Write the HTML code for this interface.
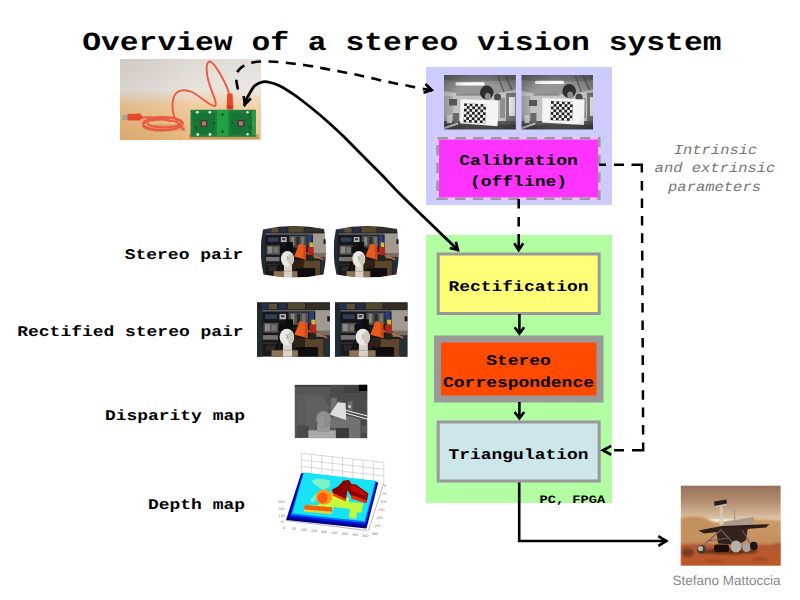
<!DOCTYPE html>
<html>
<head>
<meta charset="utf-8">
<title>Overview of a stereo vision system</title>
<style>
html,body{margin:0;padding:0;background:#fff;}
body{width:800px;height:600px;overflow:hidden;position:relative;font-family:"Liberation Mono",monospace;}
svg{position:absolute;left:0;top:0;display:block;}
text{text-rendering:geometricPrecision;}
.m{font-family:"Liberation Mono",monospace;font-weight:bold;fill:#000;}
.it{font-family:"Liberation Mono",monospace;font-style:italic;font-weight:normal;fill:#767676;}
.s{font-family:"Liberation Sans",sans-serif;fill:#8a8a8a;}
</style>
</head>
<body>
<svg width="800" height="600" viewBox="0 0 800 600">
<rect width="800" height="600" fill="#ffffff"/>
<defs>
<filter id="b3" x="-5%" y="-5%" width="110%" height="110%"><feGaussianBlur stdDeviation="0.35"/></filter>
<filter id="b5" x="-5%" y="-5%" width="110%" height="110%"><feGaussianBlur stdDeviation="0.55"/></filter>
<filter id="b6" x="-5%" y="-5%" width="110%" height="110%"><feGaussianBlur stdDeviation="0.75"/></filter>
<filter id="b8" x="-5%" y="-5%" width="110%" height="110%"><feGaussianBlur stdDeviation="0.8"/></filter>
<filter id="b15" x="-10%" y="-10%" width="120%" height="120%"><feGaussianBlur stdDeviation="1.5"/></filter>
<linearGradient id="gBoardBg" x1="0" y1="0" x2="0" y2="1">
 <stop offset="0" stop-color="#ddd6cf"/>
 <stop offset="0.38" stop-color="#e6e0da"/>
 <stop offset="0.47" stop-color="#ead4b8"/>
 <stop offset="0.58" stop-color="#efc796"/>
 <stop offset="0.8" stop-color="#ecbb80"/>
 <stop offset="1" stop-color="#e9b376"/>
</linearGradient>
<linearGradient id="gBoardLight" x1="0" y1="0" x2="1" y2="0">
 <stop offset="0" stop-color="#000" stop-opacity="0.06"/>
 <stop offset="0.5" stop-color="#fff" stop-opacity="0.08"/>
 <stop offset="1" stop-color="#fff" stop-opacity="0.22"/>
</linearGradient>
<clipPath id="cBoard"><rect x="120" y="59" width="141.3" height="81.3"/></clipPath>
<pattern id="chkL" x="464.2" y="103.2" width="5.5" height="5.5" patternUnits="userSpaceOnUse">
 <rect width="5.5" height="5.5" fill="#f2f2f2"/>
 <rect width="2.75" height="2.75" fill="#222"/>
 <rect x="2.75" y="2.75" width="2.75" height="2.75" fill="#222"/>
</pattern>
<pattern id="chkR" x="551" y="101" width="5.5" height="5.5" patternUnits="userSpaceOnUse">
 <rect width="5.5" height="5.5" fill="#f2f2f2"/>
 <rect width="2.75" height="2.75" fill="#222"/>
 <rect x="2.75" y="2.75" width="2.75" height="2.75" fill="#222"/>
</pattern>
<radialGradient id="gVig" cx="0.5" cy="0.55" r="0.75">
 <stop offset="0.55" stop-color="#000" stop-opacity="0"/>
 <stop offset="1" stop-color="#000" stop-opacity="0.42"/>
</radialGradient>
</defs>


<!-- TITLE -->
<text class="m" font-size="26.05" transform="translate(82.2,50.0) scale(1.203,1)">Overview of a stereo vision system</text>

<!-- BACKGROUND PANELS -->
<rect id="lav" x="426" y="67" width="186" height="138" fill="#ccccff"/>
<rect id="grn" x="426" y="235" width="186" height="268" fill="#b2fca2"/>

<!-- PHOTO: camera board -->
<g id="board" clip-path="url(#cBoard)">
<rect x="120" y="59" width="141.3" height="81.3" fill="url(#gBoardBg)"/>
<rect x="120" y="59" width="141.3" height="81.3" fill="url(#gBoardLight)"/>
<g filter="url(#b5)">
 <!-- board shadow -->
 <rect x="189" y="134" width="70" height="5" fill="#b98a4e" opacity="0.7"/>
 <!-- coil shadow -->
 <ellipse cx="164" cy="128" rx="22" ry="4" fill="#d99a58" opacity="0.7"/>
 <!-- cable -->
 <g fill="none" stroke="#ea5a42" stroke-width="1.9" stroke-linecap="round">
  <path d="M229.5,95 C226,82 214,62 210,61.5 C205,61 206,75 210,86 C212,93 218,104 215,106 C211,107 200,96 192,92 C184,88.5 176,90 173.5,98 C171,108 173,120 184,130"/>
  <ellipse cx="163" cy="123.5" rx="20" ry="6.5"/>
  <ellipse cx="164" cy="122.5" rx="17" ry="5"/>
  <ellipse cx="161" cy="125" rx="18" ry="5.5"/>
  <path d="M141,118 C150,116 160,118 170,121"/>
 </g>
 <!-- left plug -->
 <rect x="122" y="115" width="6" height="5" fill="#a9a39b"/>
 <path d="M127.5,114 L140,113.5 L143,117 L140,120.5 L127.5,120.5 Z" fill="#e8492f"/>
 <!-- plug on board -->
 <path d="M227.2,93.5 L232.5,93.5 L233.3,108.5 L226.5,108.5 Z" fill="#e8492f"/>
 <rect x="227" y="105" width="6" height="4.5" fill="#d43a22"/>
 <!-- PCB -->
 <rect x="190.5" y="109.8" width="65.3" height="27" fill="#1d7f3a"/>
 <rect x="217" y="109.8" width="11.5" height="27" fill="#23a043"/>
 <rect x="193" y="113" width="22" height="21" fill="#197535"/>
 <rect x="230.5" y="113" width="22" height="21" fill="#197535"/>
 <rect x="252" y="111" width="3.5" height="24" fill="#2c9a4a"/>
 <rect x="200.5" y="120" width="7" height="7" fill="#4a3a36"/>
 <rect x="202" y="121.5" width="4" height="4" fill="#b07a70"/>
 <rect x="237.5" y="120" width="7" height="7" fill="#4a3a36"/>
 <rect x="239" y="121.5" width="4" height="4" fill="#b07a70"/>
 <g fill="#e8f4ea">
  <circle cx="197.3" cy="112.3" r="1.4"/><circle cx="209.8" cy="112.3" r="1.4"/>
  <circle cx="197.8" cy="134.5" r="1.4"/><circle cx="210" cy="134.5" r="1.4"/>
  <circle cx="247.5" cy="112.3" r="1.2"/><circle cx="247.5" cy="134.3" r="1.2"/>
 </g>
 <g fill="#0d4a22">
  <circle cx="222.5" cy="114.5" r="1.2"/><circle cx="222.5" cy="131.5" r="1.2"/>
  <circle cx="214" cy="123" r="1"/><circle cx="232" cy="123" r="1"/>
  <circle cx="196" cy="128" r="1"/><circle cx="250" cy="128" r="1"/>
 </g>
</g>
</g>

<!-- PHOTO: calibration pair -->
<g id="calib">
<clipPath id="cCal444"><rect x="444" y="75" width="71.8" height="54.4"/></clipPath>
<clipPath id="cCal521"><rect x="521.4" y="75" width="71.6" height="54.4"/></clipPath>
<g clip-path="url(#cCal444)">
<rect x="444" y="75" width="72" height="54.4" fill="#c3c3c3"/>
<g filter="url(#b5)">
 <!-- ceiling -->
 <path d="M444,75 h72 v14 C494,96 466,96 444,91 Z" fill="#969696"/>
 <path d="M444,75 h72 v5 C494,82 466,82 444,80 Z" fill="#7c7c7c"/>
 <!-- ceiling beams -->
 <path d="M498,76 L504,92 M506,76 L512,90" stroke="#5a5a5a" stroke-width="1.2" fill="none"/>
 <!-- light -->
 <rect x="455.5" y="82.3" width="29.0" height="3.299999999999997" rx="1.3" fill="#ffffff"/>
 <!-- wall bits -->
 <rect x="444" y="96" width="9" height="26" fill="#a8a8a8"/>
 <rect x="449" y="99" width="8" height="6.5" fill="#555"/>
 <rect x="456" y="93.5" width="26" height="2.2" fill="#8a8a8a"/>
 <!-- right side window/door -->
 <rect x="506" y="93" width="10" height="30" fill="#777"/>
 <rect x="509" y="97" width="6" height="19" fill="#e6e6e6"/>
 <rect x="500" y="98" width="5" height="20" fill="#8f8f8f"/>
 <!-- heads -->
 <ellipse cx="486.8" cy="92.55" rx="6.800000000000011" ry="6.950000000000003" fill="#2e2e2e"/>
 <ellipse cx="487.8" cy="96.5" rx="3" ry="3.5" fill="#8c8c8c"/>
 <ellipse cx="497.5" cy="97" rx="3.5" ry="3.5" fill="#4a4a4a"/>
 <!-- floor / desk -->
 <rect x="444" y="121" width="72" height="9" fill="#5c5c5c"/>
 <rect x="444" y="124.5" width="72" height="5" fill="#474747"/>
 <path d="M444,127 L458,122.5 L458,124.5 L444,129.5Z" fill="#c9c9c9"/>
 <rect x="453" y="113" width="6" height="9" fill="#6a6a6a"/>
 <rect x="447" y="115" width="5" height="8" fill="#d0d0d0"/>
 <!-- board -->
 <path d="M460.6,99.2 L498.3,100.6 L497.6,126.2 L460.2,123.2 Z" fill="#f4f4f4"/>
</g>
<g filter="url(#b3)"><rect x="464.2" y="103.2" width="22" height="19.25" fill="url(#chkL)" transform="rotate(2.5 464.2 103.2)"/></g>
<rect x="444" y="75" width="72" height="54.4" fill="url(#gVig)"/>
</g><g clip-path="url(#cCal521)">
<rect x="521.4" y="75" width="72" height="54.4" fill="#c3c3c3"/>
<g filter="url(#b5)">
 <!-- ceiling -->
 <path d="M521.4,75 h72 v14 C571.4,96 543.4,96 521.4,91 Z" fill="#969696"/>
 <path d="M521.4,75 h72 v5 C571.4,82 543.4,82 521.4,80 Z" fill="#7c7c7c"/>
 <!-- ceiling beams -->
 <path d="M575.4,76 L581.4,92 M583.4,76 L589.4,90" stroke="#5a5a5a" stroke-width="1.2" fill="none"/>
 <!-- light -->
 <rect x="535" y="80.8" width="29" height="3.200000000000003" rx="1.3" fill="#ffffff"/>
 <!-- wall bits -->
 <rect x="521.4" y="96" width="9" height="26" fill="#a8a8a8"/>
 <rect x="529" y="100" width="8" height="6" fill="#555"/>
 <rect x="533.4" y="93.5" width="26" height="2.2" fill="#8a8a8a"/>
 <!-- right side window/door -->
 <rect x="587" y="93" width="7" height="30" fill="#777"/>
 <rect x="590" y="97" width="3" height="19" fill="#e6e6e6"/>
 <rect x="581" y="98" width="5" height="20" fill="#8f8f8f"/>
 <!-- heads -->
 <ellipse cx="569.2" cy="91.0" rx="6.800000000000011" ry="7.0" fill="#2e2e2e"/>
 <ellipse cx="570.2" cy="95" rx="3" ry="3.5" fill="#8c8c8c"/>
 <ellipse cx="579" cy="97" rx="3.5" ry="3.5" fill="#4a4a4a"/>
 <!-- floor / desk -->
 <rect x="521.4" y="121" width="72" height="9" fill="#5c5c5c"/>
 <rect x="521.4" y="124.5" width="72" height="5" fill="#474747"/>
 <path d="M521.4,127 L535.4,122.5 L535.4,124.5 L521.4,129.5Z" fill="#c9c9c9"/>
 <rect x="530.4" y="113" width="6" height="9" fill="#6a6a6a"/>
 <rect x="524.4" y="115" width="5" height="8" fill="#d0d0d0"/>
 <!-- board -->
 <path d="M542.5,98 L584.5,99.5 L584,125 L542,122.5 Z" fill="#f4f4f4"/>
</g>
<g filter="url(#b3)"><rect x="551" y="101" width="22" height="19.25" fill="url(#chkR)" transform="rotate(2 551 101)"/></g>
<rect x="521.4" y="75" width="72" height="54.4" fill="url(#gVig)"/>
</g></g>

<!-- Calibration box -->
<rect x="437.6" y="138.2" width="161.7" height="60.5" fill="#ff33ff" stroke="#efc4fb" stroke-width="2.6"/>
<rect x="437.6" y="138.2" width="161.7" height="60.5" fill="none" stroke="#999999" stroke-width="2.6" stroke-dasharray="10.5 7.3" stroke-dashoffset="0"/>
<text class="m" font-size="14.79" transform="translate(518.5,164.6) scale(1.215,1)" text-anchor="middle" fill="#33003f">Calibration</text>
<text class="m" font-size="14.79" transform="translate(518.5,186.0) scale(1.215,1)" text-anchor="middle" fill="#33003f">(offline)</text>

<!-- Rectification -->
<rect x="438.2" y="254" width="161" height="59.5" fill="#ffff77" stroke="#999999" stroke-width="3"/>
<text class="m" font-size="14.79" transform="translate(518.5,291.0) scale(1.215,1)" text-anchor="middle">Rectification</text>

<!-- Stereo correspondence -->
<rect x="437.5" y="339" width="162.5" height="60" fill="#ff4a00" stroke="#999999" stroke-width="7"/>
<text class="m" font-size="14.79" transform="translate(518.5,365.0) scale(1.215,1)" text-anchor="middle" fill="#3a1000">Stereo</text>
<text class="m" font-size="14.79" transform="translate(518.5,387.0) scale(1.215,1)" text-anchor="middle" fill="#3a1000">Correspondence</text>

<!-- Triangulation -->
<rect x="438.2" y="422" width="161" height="59" fill="#cce6ea" stroke="#999999" stroke-width="3"/>
<text class="m" font-size="14.79" transform="translate(518.5,458.5) scale(1.215,1)" text-anchor="middle">Triangulation</text>

<text class="m" font-size="11.26" transform="translate(539.5,502.8) scale(1.215,1)">PC, FPGA</text>

<!-- LEFT LABELS -->
<text class="m" font-size="14.79" transform="translate(243.3,259.0) scale(1.215,1)" text-anchor="end">Stereo pair</text>
<text class="m" font-size="14.79" transform="translate(243.6,336.0) scale(1.215,1)" text-anchor="end">Rectified stereo pair</text>
<text class="m" font-size="14.79" transform="translate(245.0,419.5) scale(1.215,1)" text-anchor="end">Disparity map</text>
<text class="m" font-size="14.79" transform="translate(245.0,508.5) scale(1.215,1)" text-anchor="end">Depth map</text>

<!-- ITALIC NOTE -->
<text class="it" font-size="13.84" transform="translate(715.5,154.0) scale(1.12,1)" text-anchor="middle">Intrinsic</text>
<text class="it" font-size="13.84" transform="translate(715.0,171.5) scale(1.12,1)" text-anchor="middle">and extrinsic</text>
<text class="it" font-size="13.84" transform="translate(714.5,190.5) scale(1.12,1)" text-anchor="middle">parameters</text>

<!-- PHOTOS: stereo pair -->
<g id="sp">
<clipPath id="cSp"><path d="M2.3,3.3 Q32.8,-3.1 63.4,3 Q67.5,25.6 62.8,48.3 Q32.8,54.5 2.8,48.3 Q-2.5,25.6 2.3,3.3 Z"/></clipPath>
<g transform="translate(260.7,226.1)"><g clip-path="url(#cSp)" filter="url(#b6)"><g transform="scale(0.895,0.94)">
<rect x="0" y="0" width="73" height="54.5" fill="#1a191c"/>
<g>
 <!-- top shelf objects -->
 <rect x="0" y="0" width="73" height="7.5" fill="#262420"/>
 <rect x="4.5" y="1.2" width="7.5" height="5.6" fill="#243150"/>
 <rect x="12" y="1.6" width="8" height="5.2" fill="#5f5038"/>
 <rect x="22" y="1.2" width="7" height="5.6" fill="#222d4a"/>
 <rect x="31" y="0.8" width="17" height="6" fill="#54472f"/>
 <rect x="49" y="1.2" width="24" height="5.6" fill="#302e28"/>
 <!-- shelf line -->
 <rect x="3" y="7.6" width="70" height="1.7" fill="#5e6166"/>
 <!-- left post -->
 <rect x="0" y="7" width="5.5" height="47.5" fill="#212a33"/>
 <!-- shelf interior -->
 <rect x="6" y="9.6" width="50.8" height="24" fill="#15151d"/>
 <rect x="8" y="12" width="12" height="4.6" fill="#333c56"/>
 <rect x="22.5" y="11.6" width="6.5" height="5.4" fill="#b4b4b0"/>
 <rect x="24" y="12.8" width="3.4" height="2.2" fill="#3a3a3a"/>
 <rect x="31.6" y="10.2" width="19.699999999999996" height="12.5" fill="#4e4d4a"/>
 <rect x="34" y="11.5" width="3.5" height="9" fill="#85837c"/>
 <rect x="40" y="11.5" width="3" height="9" fill="#2b2b2b"/>
 <rect x="45" y="11.5" width="3.4" height="9" fill="#74726b"/>
 <rect x="52.099999999999994" y="9.6" width="4.9" height="11.8" fill="#27407a"/>
 <rect x="6.5" y="20.6" width="15" height="9.8" fill="#55544f"/>
 <rect x="8" y="21.8" width="5" height="7" fill="#8a8882"/>
 <rect x="14.5" y="22.5" width="5" height="6" fill="#75736c"/>
 <rect x="6" y="32.8" width="15" height="4.6" fill="#73726e"/>
 <rect x="6" y="40" width="18" height="1.6" fill="#2c2c30"/>
 <rect x="9" y="43" width="9" height="5" fill="#2a2a2c"/>
 <!-- whiteboard right -->
 <rect x="58.3" y="8" width="14.700000000000003" height="20.6" fill="#a19a91"/>
 <rect x="59.3" y="28.6" width="13.700000000000003" height="6" fill="#7b6d5f"/>
 <rect x="70.2" y="14" width="2.8" height="5" fill="#1e1e1e"/>
 <rect x="66.8" y="33" width="6.200000000000003" height="21.5" fill="#262d35"/>
 <!-- camera / tripod behind bust -->
 <rect x="28.6" y="17" width="7.4" height="11" fill="#0a0a0c"/>
 <rect x="21.6" y="22" width="7" height="7" fill="#101012"/>
 <path d="M26.6,29 L17.6,50 M28.6,28 L23.6,46" stroke="#0c0c0e" stroke-width="1.6" fill="none"/>
 <!-- table -->
 <rect x="37" y="36.6" width="29.299999999999997" height="8.2" fill="#5c4529"/>
 <rect x="35.5" y="36" width="12.5" height="9.5" fill="#2e2218"/>
 <rect x="60.8" y="44.5" width="5.5" height="10" fill="#5a432a"/>
 <rect x="39" y="44.8" width="21.799999999999997" height="9.7" fill="#0f0e10"/>
 <!-- tan box bottom-left -->
 <rect x="14.5" y="48" width="26.5" height="6.5" fill="#8c7355"/>
 <!-- lamp -->
 <path d="M42.8,18.7 L50.4,20.6 L50.8,35.7 L37.4,32.4 Z" fill="#ea5a1e"/>
 <path d="M48,20 L50.4,20.6 L50.8,35.7 L47.5,34.9 Z" fill="#c94a18"/>
 <path d="M50.5,28.5 L70.3,35.5" stroke="#b4714e" stroke-width="1.5" fill="none"/>
 <!-- figure -->
 <rect x="54.4" y="17.4" width="3.9" height="5" fill="#d8b636"/>
 <rect x="52.4" y="22.3" width="6.9" height="8.6" fill="#b3261c"/>
 <rect x="52.8" y="30.8" width="6" height="6.6" fill="#1c2a1c"/>
 <!-- bust -->
 <rect x="26.0" y="41.5" width="9" height="13" fill="#d8d2c9"/>
 <rect x="25.8" y="47.5" width="9.4" height="1.2" fill="#b8b0a4"/>
 <ellipse cx="29.900000000000002" cy="34.8" rx="7.3" ry="8.4" fill="#ebe7e1"/>
 <ellipse cx="33.6" cy="35.5" rx="3.2" ry="6.4" fill="#cdc7be"/>
 <path d="M29.6,32 q1.6,2.2 0,4.4" stroke="#8c8880" stroke-width="0.9" fill="none"/>
</g></g></g></g>
<g transform="translate(333.6,226.1)"><g clip-path="url(#cSp)" filter="url(#b6)"><g transform="scale(0.895,0.94)">
<rect x="0" y="0" width="73" height="54.5" fill="#1a191c"/>
<g>
 <!-- top shelf objects -->
 <rect x="0" y="0" width="73" height="7.5" fill="#262420"/>
 <rect x="4.5" y="1.2" width="7.5" height="5.6" fill="#243150"/>
 <rect x="12" y="1.6" width="8" height="5.2" fill="#5f5038"/>
 <rect x="22" y="1.2" width="7" height="5.6" fill="#222d4a"/>
 <rect x="31" y="0.8" width="17" height="6" fill="#54472f"/>
 <rect x="49" y="1.2" width="24" height="5.6" fill="#302e28"/>
 <!-- shelf line -->
 <rect x="3" y="7.6" width="70" height="1.7" fill="#5e6166"/>
 <!-- left post -->
 <rect x="0" y="7" width="5.5" height="47.5" fill="#212a33"/>
 <!-- shelf interior -->
 <rect x="6" y="9.6" width="49.5" height="24" fill="#15151d"/>
 <rect x="8" y="12" width="12" height="4.6" fill="#333c56"/>
 <rect x="22.5" y="11.6" width="6.5" height="5.4" fill="#b4b4b0"/>
 <rect x="24" y="12.8" width="3.4" height="2.2" fill="#3a3a3a"/>
 <rect x="31.6" y="10.2" width="18.4" height="12.5" fill="#4e4d4a"/>
 <rect x="34" y="11.5" width="3.5" height="9" fill="#85837c"/>
 <rect x="40" y="11.5" width="3" height="9" fill="#2b2b2b"/>
 <rect x="45" y="11.5" width="3.4" height="9" fill="#74726b"/>
 <rect x="50.8" y="9.6" width="4.9" height="11.8" fill="#27407a"/>
 <rect x="6.5" y="20.6" width="15" height="9.8" fill="#55544f"/>
 <rect x="8" y="21.8" width="5" height="7" fill="#8a8882"/>
 <rect x="14.5" y="22.5" width="5" height="6" fill="#75736c"/>
 <rect x="6" y="32.8" width="15" height="4.6" fill="#73726e"/>
 <rect x="6" y="40" width="18" height="1.6" fill="#2c2c30"/>
 <rect x="9" y="43" width="9" height="5" fill="#2a2a2c"/>
 <!-- whiteboard right -->
 <rect x="57" y="8" width="16" height="20.6" fill="#a19a91"/>
 <rect x="58" y="28.6" width="15" height="6" fill="#7b6d5f"/>
 <rect x="70.2" y="14" width="2.8" height="5" fill="#1e1e1e"/>
 <rect x="65.5" y="33" width="7.5" height="21.5" fill="#262d35"/>
 <!-- camera / tripod behind bust -->
 <rect x="26.8" y="17" width="7.4" height="11" fill="#0a0a0c"/>
 <rect x="19.8" y="22" width="7" height="7" fill="#101012"/>
 <path d="M24.8,29 L15.8,50 M26.8,28 L21.8,46" stroke="#0c0c0e" stroke-width="1.6" fill="none"/>
 <!-- table -->
 <rect x="35.2" y="36.6" width="29.799999999999997" height="8.2" fill="#5c4529"/>
 <rect x="33.7" y="36" width="12.5" height="9.5" fill="#2e2218"/>
 <rect x="59.5" y="44.5" width="5.5" height="10" fill="#5a432a"/>
 <rect x="37.2" y="44.8" width="22.299999999999997" height="9.7" fill="#0f0e10"/>
 <!-- tan box bottom-left -->
 <rect x="14.5" y="48" width="26.5" height="6.5" fill="#8c7355"/>
 <!-- lamp -->
 <path d="M41.0,18.7 L48.6,20.6 L49.0,35.7 L35.6,32.4 Z" fill="#ea5a1e"/>
 <path d="M46.2,20 L48.6,20.6 L49.0,35.7 L45.7,34.9 Z" fill="#c94a18"/>
 <path d="M48.7,28.5 L69,35.5" stroke="#b4714e" stroke-width="1.5" fill="none"/>
 <!-- figure -->
 <rect x="52.6" y="17.4" width="3.9" height="5" fill="#d8b636"/>
 <rect x="50.6" y="22.3" width="6.9" height="8.6" fill="#b3261c"/>
 <rect x="51.0" y="30.8" width="6" height="6.6" fill="#1c2a1c"/>
 <!-- bust -->
 <rect x="24.2" y="41.5" width="9" height="13" fill="#d8d2c9"/>
 <rect x="24.0" y="47.5" width="9.4" height="1.2" fill="#b8b0a4"/>
 <ellipse cx="28.1" cy="34.8" rx="7.3" ry="8.4" fill="#ebe7e1"/>
 <ellipse cx="31.8" cy="35.5" rx="3.2" ry="6.4" fill="#cdc7be"/>
 <path d="M27.8,32 q1.6,2.2 0,4.4" stroke="#8c8880" stroke-width="0.9" fill="none"/>
</g></g></g></g>
</g>
<!-- PHOTOS: rectified pair -->
<g id="rp">
<clipPath id="cRp"><rect x="0" y="0" width="73" height="54.4"/></clipPath>
<g transform="translate(257,302.3)" clip-path="url(#cRp)">
<rect x="0" y="0" width="73" height="54.5" fill="#1a191c"/>
<g filter="url(#b6)">
 <!-- top shelf objects -->
 <rect x="0" y="0" width="73" height="7.5" fill="#262420"/>
 <rect x="4.5" y="1.2" width="7.5" height="5.6" fill="#243150"/>
 <rect x="12" y="1.6" width="8" height="5.2" fill="#5f5038"/>
 <rect x="22" y="1.2" width="7" height="5.6" fill="#222d4a"/>
 <rect x="31" y="0.8" width="17" height="6" fill="#54472f"/>
 <rect x="49" y="1.2" width="24" height="5.6" fill="#302e28"/>
 <!-- shelf line -->
 <rect x="3" y="7.6" width="70" height="1.7" fill="#5e6166"/>
 <!-- left post -->
 <rect x="0" y="7" width="5.5" height="47.5" fill="#212a33"/>
 <!-- shelf interior -->
 <rect x="6" y="9.6" width="50.8" height="24" fill="#15151d"/>
 <rect x="8" y="12" width="12" height="4.6" fill="#333c56"/>
 <rect x="22.5" y="11.6" width="6.5" height="5.4" fill="#b4b4b0"/>
 <rect x="24" y="12.8" width="3.4" height="2.2" fill="#3a3a3a"/>
 <rect x="31.6" y="10.2" width="19.699999999999996" height="12.5" fill="#4e4d4a"/>
 <rect x="34" y="11.5" width="3.5" height="9" fill="#85837c"/>
 <rect x="40" y="11.5" width="3" height="9" fill="#2b2b2b"/>
 <rect x="45" y="11.5" width="3.4" height="9" fill="#74726b"/>
 <rect x="52.099999999999994" y="9.6" width="4.9" height="11.8" fill="#27407a"/>
 <rect x="6.5" y="20.6" width="15" height="9.8" fill="#55544f"/>
 <rect x="8" y="21.8" width="5" height="7" fill="#8a8882"/>
 <rect x="14.5" y="22.5" width="5" height="6" fill="#75736c"/>
 <rect x="6" y="32.8" width="15" height="4.6" fill="#73726e"/>
 <rect x="6" y="40" width="18" height="1.6" fill="#2c2c30"/>
 <rect x="9" y="43" width="9" height="5" fill="#2a2a2c"/>
 <!-- whiteboard right -->
 <rect x="58.3" y="8" width="14.700000000000003" height="20.6" fill="#a19a91"/>
 <rect x="59.3" y="28.6" width="13.700000000000003" height="6" fill="#7b6d5f"/>
 <rect x="70.2" y="14" width="2.8" height="5" fill="#1e1e1e"/>
 <rect x="66.8" y="33" width="6.200000000000003" height="21.5" fill="#262d35"/>
 <!-- camera / tripod behind bust -->
 <rect x="28.6" y="17" width="7.4" height="11" fill="#0a0a0c"/>
 <rect x="21.6" y="22" width="7" height="7" fill="#101012"/>
 <path d="M26.6,29 L17.6,50 M28.6,28 L23.6,46" stroke="#0c0c0e" stroke-width="1.6" fill="none"/>
 <!-- table -->
 <rect x="37" y="36.6" width="29.299999999999997" height="8.2" fill="#5c4529"/>
 <rect x="35.5" y="36" width="12.5" height="9.5" fill="#2e2218"/>
 <rect x="60.8" y="44.5" width="5.5" height="10" fill="#5a432a"/>
 <rect x="39" y="44.8" width="21.799999999999997" height="9.7" fill="#0f0e10"/>
 <!-- tan box bottom-left -->
 <rect x="14.5" y="48" width="26.5" height="6.5" fill="#8c7355"/>
 <!-- lamp -->
 <path d="M42.8,18.7 L50.4,20.6 L50.8,35.7 L37.4,32.4 Z" fill="#ea5a1e"/>
 <path d="M48,20 L50.4,20.6 L50.8,35.7 L47.5,34.9 Z" fill="#c94a18"/>
 <path d="M50.5,28.5 L70.3,35.5" stroke="#b4714e" stroke-width="1.5" fill="none"/>
 <!-- figure -->
 <rect x="54.4" y="17.4" width="3.9" height="5" fill="#d8b636"/>
 <rect x="52.4" y="22.3" width="6.9" height="8.6" fill="#b3261c"/>
 <rect x="52.8" y="30.8" width="6" height="6.6" fill="#1c2a1c"/>
 <!-- bust -->
 <rect x="26.0" y="41.5" width="9" height="13" fill="#d8d2c9"/>
 <rect x="25.8" y="47.5" width="9.4" height="1.2" fill="#b8b0a4"/>
 <ellipse cx="29.900000000000002" cy="34.8" rx="7.3" ry="8.4" fill="#ebe7e1"/>
 <ellipse cx="33.6" cy="35.5" rx="3.2" ry="6.4" fill="#cdc7be"/>
 <path d="M29.6,32 q1.6,2.2 0,4.4" stroke="#8c8880" stroke-width="0.9" fill="none"/>
</g></g>
<g transform="translate(334.9,302.3)" clip-path="url(#cRp)"><g transform="scale(0.993,1)">
<rect x="0" y="0" width="73" height="54.5" fill="#1a191c"/>
<g filter="url(#b6)">
 <!-- top shelf objects -->
 <rect x="0" y="0" width="73" height="7.5" fill="#262420"/>
 <rect x="4.5" y="1.2" width="7.5" height="5.6" fill="#243150"/>
 <rect x="12" y="1.6" width="8" height="5.2" fill="#5f5038"/>
 <rect x="22" y="1.2" width="7" height="5.6" fill="#222d4a"/>
 <rect x="31" y="0.8" width="17" height="6" fill="#54472f"/>
 <rect x="49" y="1.2" width="24" height="5.6" fill="#302e28"/>
 <!-- shelf line -->
 <rect x="3" y="7.6" width="70" height="1.7" fill="#5e6166"/>
 <!-- left post -->
 <rect x="0" y="7" width="5.5" height="47.5" fill="#212a33"/>
 <!-- shelf interior -->
 <rect x="6" y="9.6" width="49.5" height="24" fill="#15151d"/>
 <rect x="8" y="12" width="12" height="4.6" fill="#333c56"/>
 <rect x="22.5" y="11.6" width="6.5" height="5.4" fill="#b4b4b0"/>
 <rect x="24" y="12.8" width="3.4" height="2.2" fill="#3a3a3a"/>
 <rect x="31.6" y="10.2" width="18.4" height="12.5" fill="#4e4d4a"/>
 <rect x="34" y="11.5" width="3.5" height="9" fill="#85837c"/>
 <rect x="40" y="11.5" width="3" height="9" fill="#2b2b2b"/>
 <rect x="45" y="11.5" width="3.4" height="9" fill="#74726b"/>
 <rect x="50.8" y="9.6" width="4.9" height="11.8" fill="#27407a"/>
 <rect x="6.5" y="20.6" width="15" height="9.8" fill="#55544f"/>
 <rect x="8" y="21.8" width="5" height="7" fill="#8a8882"/>
 <rect x="14.5" y="22.5" width="5" height="6" fill="#75736c"/>
 <rect x="6" y="32.8" width="15" height="4.6" fill="#73726e"/>
 <rect x="6" y="40" width="18" height="1.6" fill="#2c2c30"/>
 <rect x="9" y="43" width="9" height="5" fill="#2a2a2c"/>
 <!-- whiteboard right -->
 <rect x="57" y="8" width="16" height="20.6" fill="#a19a91"/>
 <rect x="58" y="28.6" width="15" height="6" fill="#7b6d5f"/>
 <rect x="70.2" y="14" width="2.8" height="5" fill="#1e1e1e"/>
 <rect x="65.5" y="33" width="7.5" height="21.5" fill="#262d35"/>
 <!-- camera / tripod behind bust -->
 <rect x="26.8" y="17" width="7.4" height="11" fill="#0a0a0c"/>
 <rect x="19.8" y="22" width="7" height="7" fill="#101012"/>
 <path d="M24.8,29 L15.8,50 M26.8,28 L21.8,46" stroke="#0c0c0e" stroke-width="1.6" fill="none"/>
 <!-- table -->
 <rect x="35.2" y="36.6" width="29.799999999999997" height="8.2" fill="#5c4529"/>
 <rect x="33.7" y="36" width="12.5" height="9.5" fill="#2e2218"/>
 <rect x="59.5" y="44.5" width="5.5" height="10" fill="#5a432a"/>
 <rect x="37.2" y="44.8" width="22.299999999999997" height="9.7" fill="#0f0e10"/>
 <!-- tan box bottom-left -->
 <rect x="14.5" y="48" width="26.5" height="6.5" fill="#8c7355"/>
 <!-- lamp -->
 <path d="M41.0,18.7 L48.6,20.6 L49.0,35.7 L35.6,32.4 Z" fill="#ea5a1e"/>
 <path d="M46.2,20 L48.6,20.6 L49.0,35.7 L45.7,34.9 Z" fill="#c94a18"/>
 <path d="M48.7,28.5 L69,35.5" stroke="#b4714e" stroke-width="1.5" fill="none"/>
 <!-- figure -->
 <rect x="52.6" y="17.4" width="3.9" height="5" fill="#d8b636"/>
 <rect x="50.6" y="22.3" width="6.9" height="8.6" fill="#b3261c"/>
 <rect x="51.0" y="30.8" width="6" height="6.6" fill="#1c2a1c"/>
 <!-- bust -->
 <rect x="24.2" y="41.5" width="9" height="13" fill="#d8d2c9"/>
 <rect x="24.0" y="47.5" width="9.4" height="1.2" fill="#b8b0a4"/>
 <ellipse cx="28.1" cy="34.8" rx="7.3" ry="8.4" fill="#ebe7e1"/>
 <ellipse cx="31.8" cy="35.5" rx="3.2" ry="6.4" fill="#cdc7be"/>
 <path d="M27.8,32 q1.6,2.2 0,4.4" stroke="#8c8880" stroke-width="0.9" fill="none"/>
</g></g></g>
</g>
<!-- disparity map -->
<g id="disp">
<clipPath id="cDisp"><rect x="294.5" y="384.7" width="72.8" height="53.5"/></clipPath>
<g clip-path="url(#cDisp)">
<rect x="294.5" y="384.7" width="72.8" height="53.5" fill="#555555"/>
<g filter="url(#b5)">
 <rect x="294.5" y="384.7" width="73" height="2" fill="#3c3c3c"/>
 <rect x="330" y="384.7" width="38" height="16" fill="#4b4b4b"/>
 <rect x="344" y="385.5" width="16" height="7.5" fill="#3f3f3f"/>
 <rect x="358.8" y="384" width="9" height="7" fill="#000000"/>
 <rect x="340" y="400" width="28" height="18" fill="#4d4d4d"/>
 <rect x="297" y="394" width="26" height="30" fill="#5a5a5a"/>
 <path d="M305,396 L322,396 L330,408 L318,420 L312,436 L306,436 Z" fill="#616161"/>
 <rect x="297" y="426" width="12" height="11" fill="#4a4a4a"/>
 <!-- bars behind lamp -->
 <rect x="331" y="397.8" width="5.8" height="15" fill="#727272"/>
 <rect x="348.3" y="401" width="4.2" height="9.5" fill="#6c6c6c"/>
 <!-- table -->
 <path d="M328,421 L336,414.5 L353,417 L360.6,420 L360.6,438.5 L349,438.5 L349,428 L331,428 Z" fill="#717171"/>
 <rect x="336" y="428" width="13" height="10.5" fill="#3a3a3a"/>
 <rect x="360.6" y="420" width="7" height="18.5" fill="#4a4a4a"/>
 <rect x="361" y="426" width="6.5" height="7" fill="#595959"/>
 <!-- bust -->
 <rect x="308.3" y="430.3" width="27.5" height="8.5" fill="#a9a9a9"/>
 <rect x="317" y="424" width="13" height="8" fill="#979797"/>
 <ellipse cx="323.6" cy="419.3" rx="7.4" ry="8.4" fill="#8d8d8d"/>
 <ellipse cx="321.5" cy="421" rx="3.2" ry="5" fill="#989898"/>
 <!-- lamp -->
 <path d="M337.9,402.2 L345.6,403 L346.2,420 L329.6,414.6 Z" fill="#dedede"/>
 <path d="M345.5,410.2 L367.5,416 M345.5,413 L367.5,419.2" stroke="#f2f2f2" stroke-width="1.0" fill="none"/>
 <circle cx="349.5" cy="406.5" r="1.6" fill="#cfcfcf"/>
</g>
</g>
</g>
<!-- depth map -->
<g id="depth">
<!-- grid box -->
<g fill="none" stroke="#c9c9c9" stroke-width="0.7" filter="url(#b3)">
 <path d="M301.3,453.3 L383.8,462.5 L383.8,483 M301.3,453.3 L301.3,474"/>
 <path d="M301.3,459.8 L383.8,469.2 M301.3,466.4 L383.8,476"/>
 <path d="M311.6,454.5 L311.6,473.5 M321.9,455.6 L321.9,474.7 M332.2,456.8 L332.2,475.8 M342.5,457.9 L342.5,477 M352.8,459.1 L352.8,478.2 M363.1,460.2 L363.1,479.4 M373.4,461.4 L373.4,480.6"/>
 <path d="M301.3,474 L286,520 M383.8,483 L368.5,530.5 M286,520.5 L367,530.5" stroke="#9a9a9a"/>
</g>
<g filter="url(#b5)">
 <!-- dark blue base -->
 <path d="M301.2,473.2 L378.3,482.5 L366.5,528.5 L286.2,520 Z" fill="#00008c"/>
 <path d="M302.4,473 L377,481.8 L365.8,525.3 L289,517.3 Z" fill="#0018e0"/>
 <path d="M303.2,472.8 L376.2,481.2 L365.2,523 L290.8,515.2 Z" fill="#0070ff"/>
 <!-- cyan top -->
 <path d="M303.8,472.6 L375.5,480.8 L364.7,521.3 L292.2,513.4 Z" fill="#12e4f6"/>
 <!-- light green patch -->
 <path d="M312,480.5 L318,478.5 L330,480 L329.7,487 L323,490 L314,484 Z" fill="#7ef3c4"/>
 <path d="M310,500 L318,492 L320,495 L313,503 Z" fill="#7ef3c4"/>
 <!-- yellow-green regions -->
 <path d="M331,493 L349,497.5 L349,502 L363.5,503 L361.5,512.5 L357,512.5 L356,518.8 L349,518 L350,509 L334,507 L332,511 L304,508.5 L304.6,505 L318,505 Z" fill="#c6fb3e"/>
 <!-- orange bar -->
 <path d="M304.6,504.8 L332.3,507.3 L331.8,512 L304,509.6 Z" fill="#f1620f"/>
 <path d="M304,509.4 L331.8,511.8 L331.5,514 L303.8,511.6 Z" fill="#f8d320"/>
 <!-- head -->
 <ellipse cx="324" cy="497" rx="8.3" ry="7.6" fill="#ff9a14"/>
 <ellipse cx="322.6" cy="498" rx="5" ry="5.4" fill="#ff5a12"/>
 <!-- lamp (dark red) -->
 <path d="M332,489.5 L338,486.5 L343.5,480.5 L349,480 L351.5,484 L356,484.5 L368.5,493.5 L366.5,502.5 L352,497.5 L347.5,490 L346,499.5 L333,493.5 Z" fill="#8c0000"/>
 <path d="M333,493 L346,499 L345.8,501.5 L332.6,495.5 Z" fill="#ff3a00"/>
 <path d="M351.5,495 L366.6,500.2 L366,503.3 L351,498.4 Z" fill="#f02800"/>
 <path d="M350,485.5 L355.5,485.5 L367.5,494 L366.8,497 L352,491 Z" fill="#b80a00"/>
</g>
<!-- tick labels -->
<g font-family="Liberation Sans, sans-serif" font-size="3.6" fill="#777" filter="url(#b3)">
 <text x="278.5" y="503.4">300</text><text x="278.5" y="510">200</text><text x="278.8" y="516.6">100</text><text x="281.5" y="523">0</text>
 <text x="283" y="528.6">0</text><text x="292" y="529.8">50</text><text x="301" y="531">100</text><text x="311" y="532.2">150</text><text x="321" y="533.2">200</text><text x="331.5" y="534.2">250</text><text x="342" y="535.2">300</text><text x="352.5" y="536">350</text><text x="362.5" y="537">400</text>
 <text x="384" y="487">0</text><text x="382.5" y="495">50</text><text x="380.5" y="503">100</text><text x="378.5" y="511">150</text><text x="376.5" y="519">200</text><text x="374.5" y="527">250</text><text x="372" y="535">300</text>
</g>
</g>
<!-- rover -->
<g id="rover">
<defs>
<linearGradient id="gSky" x1="0" y1="0" x2="0" y2="1">
 <stop offset="0" stop-color="#96705a"/>
 <stop offset="0.45" stop-color="#b38c70"/>
 <stop offset="0.85" stop-color="#d2b494"/>
 <stop offset="1" stop-color="#e2ccae"/>
</linearGradient>
<linearGradient id="gHill" x1="0" y1="0" x2="0" y2="1">
 <stop offset="0" stop-color="#cfa070"/>
 <stop offset="1" stop-color="#c28a58"/>
</linearGradient>
<linearGradient id="gGround" x1="0" y1="0" x2="0" y2="1">
 <stop offset="0" stop-color="#b25630"/>
 <stop offset="1" stop-color="#bb6034"/>
</linearGradient>
<clipPath id="cRover"><rect x="680.6" y="485.4" width="100.2" height="80.3"/></clipPath>
</defs>
<g clip-path="url(#cRover)">
<rect x="680.6" y="485.4" width="100.2" height="34" fill="url(#gSky)"/>
<g filter="url(#b8)">
 <!-- hills -->
 <path d="M680,518 C690,515.5 700,515 708,519 C716,523 722,522 730,520.5 C745,518 765,518.5 782,519.5 L782,548 L680,548 Z" fill="url(#gHill)"/>
 <path d="M680,519 C690,516.5 700,516 706,519.5 L720,530 L680,536 Z" fill="#c3905e"/>
 <!-- ground -->
 <path d="M680,545 C700,542 720,546 740,545 C755,544 770,546 782,542 L782,567 L680,567 Z" fill="url(#gGround)"/>
 <path d="M680,556 C700,553 730,560 782,552 L782,567 L680,567 Z" fill="#b9592c"/>
 <ellipse cx="688" cy="552.5" rx="6" ry="4.6" fill="#7a3a22"/>
 <ellipse cx="760" cy="559" rx="8" ry="2" fill="#a64a22"/>
 <ellipse cx="715" cy="561" rx="10" ry="1.6" fill="#a64a22"/>
 <!-- shadow under rover -->
 <ellipse cx="728" cy="551.5" rx="30" ry="3" fill="#6a2e18"/>
</g>
<g filter="url(#b5)">
 <!-- solar panel (upper, light) -->
 <path d="M724,522 L750,517.5 L754,517 L753,523.5 L748,525.5 L726,526.5 Z" fill="#a99b8b"/>
 <!-- deck -->
 <path d="M698.5,530.5 L722,526 L769.5,524.2 L766,527.5 L740,529.5 L704,533.5 Z" fill="#2c1c14"/>
 <path d="M716,528 L748,527 L746,540 L738,545 L718,543.5 Z" fill="#33201a"/>
 <!-- struts -->
 <path d="M722,529 L706,543 L701,549 M722,531 L736,546 M742,530 L752,546 M708,541 L728,538" stroke="#6e6058" stroke-width="1.1" fill="none"/>
 <!-- mast -->
 <rect x="719.6" y="506" width="3.2" height="19.5" fill="#cfc6ba"/>
 <ellipse cx="721.4" cy="521" rx="2.4" ry="3" fill="#d8d0c4"/>
 <path d="M714,501.5 L726.5,499.5 L727.2,505.6 L715,508.2 Z" fill="#2a1e1a"/>
 <path d="M714.6,506 L727,503.4 L727.2,505.8 L715,508.4 Z" fill="#c9b9a8"/>
 <!-- antenna -->
 <rect x="733.8" y="510" width="1.5" height="13" fill="#a99c8c"/>
 <!-- wheels -->
 <rect x="714" y="544.5" width="15" height="7.5" rx="2.5" fill="#1a100c"/>
 <ellipse cx="736" cy="546.5" rx="5.4" ry="6" fill="#b5b2ae"/>
 <ellipse cx="746.5" cy="547.5" rx="4.2" ry="4.6" fill="#a7a4a0"/>
 <ellipse cx="753.8" cy="546" rx="3.8" ry="4.2" fill="#1e1410"/>
 <ellipse cx="701.5" cy="549.5" rx="4.6" ry="4.4" fill="#4a3a32"/>
 <ellipse cx="700.5" cy="548.5" rx="2.6" ry="2.6" fill="#b5b0aa"/>
</g>
</g>
</g>
<text class="s" x="726.6" y="585" font-size="13.5" text-anchor="middle">Stefano Mattoccia</text>

<!-- ARROWS -->
<g id="arrows" fill="none" stroke="#000" stroke-width="2.6">
<!-- dashed curve board -> calibration images -->
<path d="M238.0,89.5 C237.7,87.9 236.4,83.1 236.4,80.0 C236.4,76.9 236.6,73.5 238.0,71.0 C239.4,68.5 242.6,66.4 245.0,65.0 C247.4,63.6 249.7,63.1 252.5,62.5 C255.3,61.9 259.1,61.7 262.0,61.5 C264.9,61.3 267.1,61.4 270.0,61.5 C272.9,61.6 276.6,61.8 279.5,62.0 C282.4,62.2 284.7,62.7 287.6,63.0 C290.5,63.3 294.3,63.7 297.0,64.0 C299.7,64.3 301.1,64.6 304.0,65.0 C306.9,65.4 311.5,66.1 314.4,66.6 C317.3,67.1 318.7,67.4 321.6,68.0 C324.5,68.6 328.7,69.5 331.6,70.0 C334.5,70.5 336.1,70.6 339.0,71.2 C341.9,71.8 346.2,72.8 349.0,73.4 C351.8,74.0 353.2,74.0 356.0,74.6 C358.8,75.2 363.1,76.3 366.0,77.0 C368.9,77.7 370.7,77.9 373.6,78.6 C376.5,79.3 380.7,80.4 383.6,81.0 C386.5,81.6 388.2,81.8 391.0,82.4 C393.8,83.0 397.6,83.8 400.4,84.4 C403.2,85.0 405.1,85.2 408.0,85.8 C410.9,86.4 414.6,87.4 417.6,88.0 C420.6,88.6 423.5,89.0 426.0,89.4 C428.5,89.8 431.4,90.2 432.5,90.4" stroke-dasharray="9.8 7.6"/>
<path d="M423.5,92.7 L431.7,90.0 L425.5,84.0" stroke-width="2.6"/>
<!-- solid curve to rectification -->
<path d="M244.2,106.0 C244.5,105.0 245.2,101.9 246.0,100.0 C246.8,98.1 247.6,96.8 249.0,94.5 C250.4,92.2 252.2,88.1 254.5,86.0 C256.8,83.9 260.1,82.3 263.0,81.8 C265.9,81.3 269.2,82.3 272.0,83.0 C274.8,83.7 277.0,84.5 280.0,86.0 C283.0,87.5 286.7,89.8 290.0,92.0 C293.3,94.2 295.0,95.2 300.0,99.0 C305.0,102.8 313.3,109.3 320.0,115.0 C326.7,120.7 333.3,126.7 340.0,133.0 C346.7,139.3 353.3,146.3 360.0,153.0 C366.7,159.7 373.3,166.2 380.0,173.0 C386.7,179.8 391.7,185.7 400.0,194.0 C408.3,202.3 420.2,213.6 430.0,223.0 C439.8,232.4 453.8,245.9 458.5,250.5" stroke-width="2.8"/>
<path d="M243.6,96.1 L245.0,104.5 L250.9,98.4" stroke-width="2.6"/>
<path d="M449.7,248.0 L457.9,250.0 L455.9,241.8" stroke-width="2.6"/>
<!-- calibration -> rectification dashed -->
<path d="M518.7,199 L518.7,208.5 M518.7,217 L518.7,226.5 M518.7,234 L518.7,251" stroke-width="2.6"/>
<path d="M514.2,243.2 L518.7,250.2 L523.2,243.2" stroke-width="2.6"/>
<!-- rect -> stereo -->
<path d="M519.4,314 L519.4,333"/>
<path d="M514.6,327.2 L519.4,333.5 L524.2,327.2" stroke-width="2.6"/>
<!-- stereo -> tri -->
<path d="M519.4,402 L519.4,418"/>
<path d="M514.6,412.0 L519.4,418.3 L524.2,412.0" stroke-width="2.6"/>
<!-- right dashed -->
<path d="M599,164.7 L606,164.7 M614,164.7 L624,164.7 M631.5,164.7 L643.0,164.7 M641.79,163.4 L641.84,172.6 M641.88,181.0 L641.93,190.6 M641.97,198.5 L642.01,208.1 M642.05,215.9 L642.10,225.5 M642.14,233.3 L642.18,242.9 M642.22,250.8 L642.27,260.4 M642.31,268.2 L642.35,277.8 M642.39,285.6 L642.44,295.2 M642.48,303.0 L642.53,312.6 M642.56,320.5 L642.61,330.1 M642.65,337.9 L642.70,347.5 M642.73,355.3 L642.78,364.9 M642.82,372.8 L642.87,382.4 M642.91,390.2 L642.95,399.8 M642.99,407.6 L643.04,417.2 M643.08,425.0 L643.12,434.6 M643.16,442.5 L643.21,451.6 M644.4,450.3 L632,450.3 M624,450.3 L614,450.3" stroke-width="2.5"/>
<path d="M611.2,445.9 L603.0,450.3 L611.2,454.7" stroke-width="2.7"/>
<!-- output -->
<path d="M519.2,482.5 L519.2,541 L667,541"/>
<path d="M658.3,545.8 L666.3,541.0 L658.3,536.2" stroke-width="2.6"/>
</g>
</svg>
</body>
</html>
